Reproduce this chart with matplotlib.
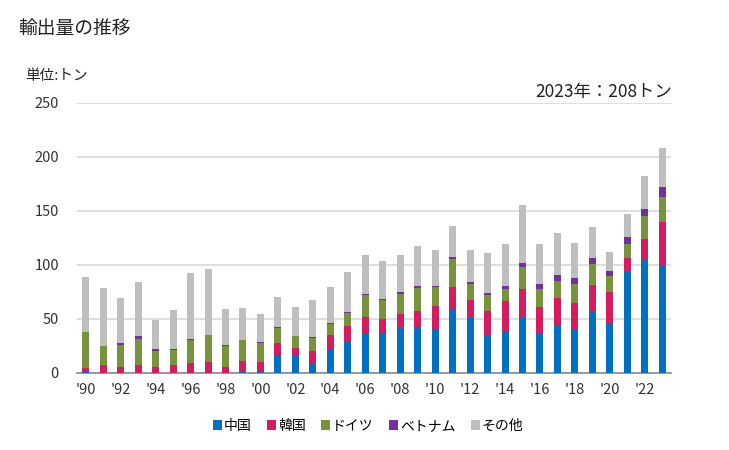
import matplotlib
matplotlib.use("Agg")
import matplotlib.pyplot as plt
from matplotlib.patches import Patch
import numpy as np

plt.rcParams['font.family'] = ['Noto Sans CJK JP', 'DejaVu Sans']

years = list(range(1990, 2024))
china = [1.9, 0, 0, 0, 0, 0, 0, 0, 0, 1.9, 2.2, 17, 16, 9.6, 22.5, 29, 37.3, 37.3, 42, 42.9,
         41, 59.6, 51.2, 35.5, 38.6, 51.2, 37.3, 44.8, 41, 56.8, 46.6, 93.8, 104.9, 99.4]
korea = [3.0, 7.1, 5.9, 7.1, 5.9, 7.7, 9.6, 10.5, 5.9, 9.5, 8.3, 11.1, 7.5, 11.1, 13, 14.8, 14.9, 13, 12.9, 14.8,
         21.3, 20.3, 16.7, 22.2, 28.4, 26.9, 24.1, 25, 24.1, 25, 28.7, 13, 19.5, 40.7]
germany = [33.4, 18.2, 20.3, 24.7, 14.8, 13.9, 21.3, 25, 19.4, 19.5, 17.6, 13.9, 11.1, 12, 10.2, 12.1, 20.3, 17.6, 18.6, 21.3,
           17.6, 26, 14.8, 14.8, 11.1, 20.4, 16.7, 15.7, 17.6, 19.4, 14.8, 13, 21.3, 23.2]
vietnam = [0, 0, 1.9, 2.8, 1.8, 0.9, 0.9, 0, 0.9, 0, 0.9, 0.9, 0, 0.9, 0.9, 0.9, 1.0, 0.9, 1.8, 1.9,
           1.0, 1.8, 1.9, 1.9, 2.8, 3.7, 4.6, 5.5, 5.6, 5.6, 4.7, 6.4, 6.5, 9.2]
others = [50.9, 53.7, 41.7, 50, 26.9, 36.1, 61.1, 61.1, 33.4, 29.6, 25.9, 27.8, 26.8, 34.3, 33.3, 37, 36.1, 35.2, 34.3, 37,
          33.3, 28.7, 29.6, 37, 38.9, 53.7, 37.1, 38.9, 32.4, 28.7, 17.5, 21.3, 30.5, 35.6]

series = [("中国", china, "#0070c0"), ("韓国", korea, "#d41c5f"), ("ドイツ", germany, "#77933c"),
          ("ベトナム", vietnam, "#7030a0"), ("その他", others, "#bfbfbf")]
xlabels = ["'%02d" % (y % 100) if y % 2 == 0 else "" for y in years]

fig = plt.figure(figsize=(7.29, 4.5), dpi=100)
ax = fig.add_axes([77/729, 1 - 373/450, (671-77)/729, (373-103)/450])

x = np.arange(len(years))
bottom = np.zeros(len(years))
for name, vals, col in series:
    v = np.array(vals)
    ax.bar(x, v, bottom=bottom, width=0.4, color=col, zorder=3)
    bottom += v

ax.set_xlim(-0.5, len(years) - 0.5)
ax.set_ylim(0, 250)
ax.set_yticks(range(0, 251, 50))
ax.yaxis.grid(True, color="#d9d9d9", linewidth=1.2, zorder=0)
ax.set_xticks(x)
ax.set_xticklabels(xlabels)
for s in ["left", "right", "top"]:
    ax.spines[s].set_visible(False)
ax.spines["bottom"].set_color("#898989")
ax.spines["bottom"].set_linewidth(1.2)
ax.tick_params(axis="both", length=0, labelsize=10.5, colors="#333333")
ax.tick_params(axis="x", pad=7)
ax.tick_params(axis="y", pad=13)

fig.text(18/729, 1 - 28/450, "輸出量の推移", fontsize=13.5, va="center", ha="left", color="#222222")
fig.text(25/729, 1 - 76/450, "単位:トン", fontsize=10.5, va="center", ha="left", color="#222222")
fig.text(672/729, 1 - 92/450, "2023年：208トン", fontsize=12.5, va="center", ha="right", color="#222222")

handles = [Patch(facecolor=c, edgecolor="none", label=n) for n, _, c in series]
fig.legend(handles=handles, loc="center", bbox_to_anchor=(0.505, 1 - 426/450), ncol=5, frameon=False,
           fontsize=10, handlelength=0.65, handleheight=0.65, handletextpad=0.15, columnspacing=1.1)

fig.savefig("out.png", dpi=100)
